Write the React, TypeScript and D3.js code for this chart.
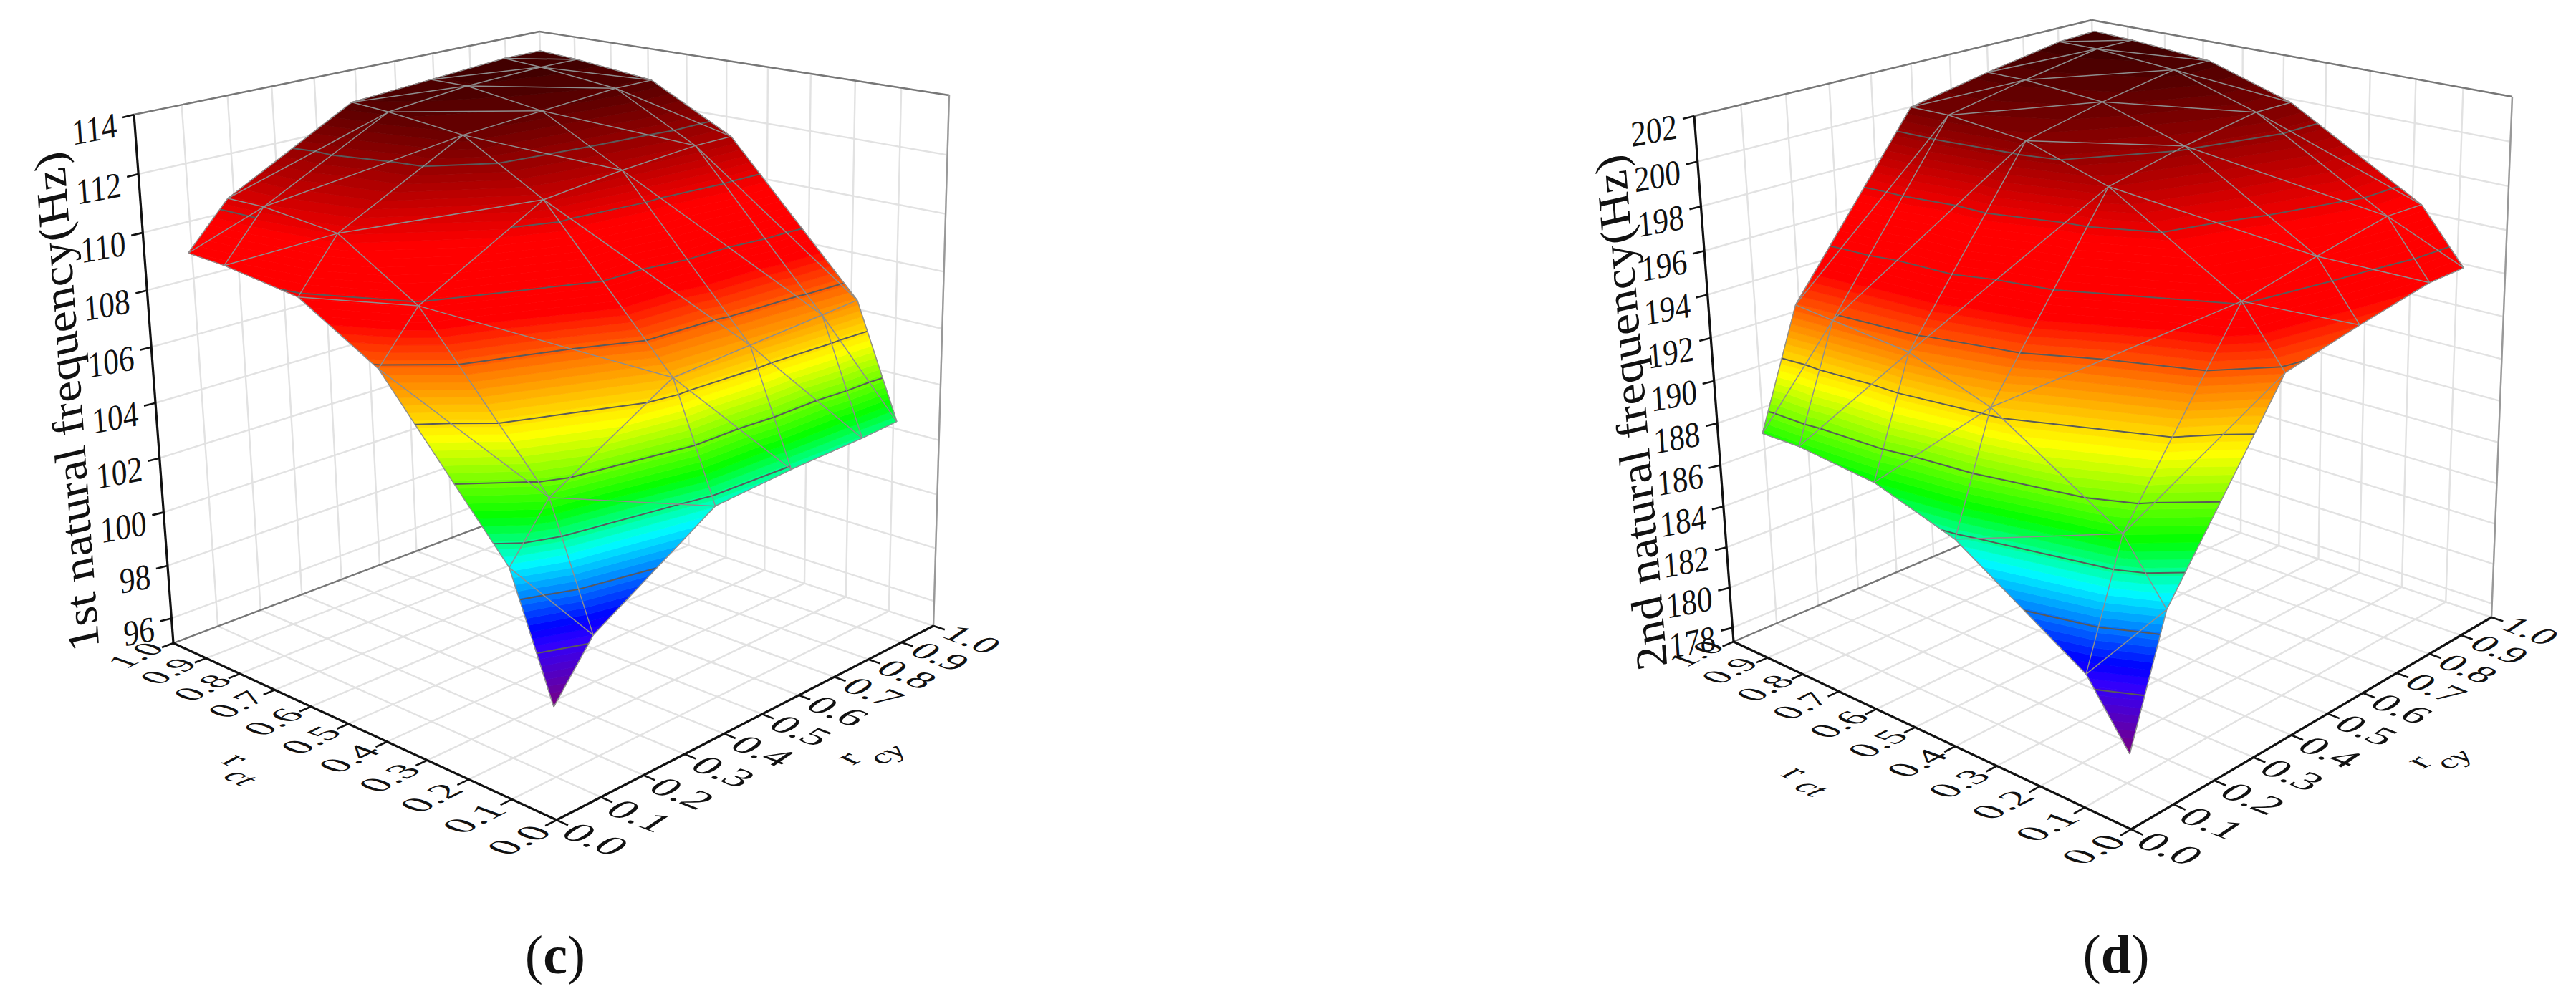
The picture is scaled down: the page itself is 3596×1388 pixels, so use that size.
import React, { useEffect, useRef } from 'react';
import * as d3 from 'd3';

// surface sample positions, same for rct (rows) and rcy (columns)
const meshLevels = [0, 0.09, 0.38, 0.575, 0.77, 0.87];
const axisTicks = [0, 0.1, 0.2, 0.3, 0.4, 0.5, 0.6, 0.7, 0.8, 0.9, 1];
const zTicksC = [96, 98, 100, 102, 104, 106, 108, 110, 112, 114];
const zTicksD = [178, 180, 182, 184, 186, 188, 190, 192, 194, 196, 198, 200, 202];
const contourC = [100.2, 101.7, 103.2, 104.7, 106.2, 107.7, 109.3, 110.9, 112.4];
const contourD = [182.6, 184.8, 186.9, 189.2, 191.4, 193.6, 195.8, 198, 200.1];

const freqC = [
  [98.7, 100.4, 102.9, 103.1, 103.2, 103.3],
  [102.6, 104.3, 106.7, 106.9, 107.1, 107.2],
  [107.6, 109.2, 111.5, 111.8, 112.0, 112.0],
  [109.2, 110.9, 113.1, 113.3, 113.5, 113.5],
  [109.6, 111.2, 113.4, 113.7, 113.8, 113.8],
  [109.7, 111.2, 113.5, 113.7, 113.9, 113.9],
];
const freqD = [
  [180.5, 185.7, 193.4, 194.2, 194.9, 195.0],
  [183.1, 188.2, 195.9, 196.7, 197.4, 197.4],
  [186.7, 191.7, 199.4, 200.2, 200.8, 200.8],
  [187.9, 193.0, 200.6, 201.4, 202.0, 202.0],
  [188.3, 193.4, 201.0, 201.7, 202.3, 202.3],
  [188.3, 193.6, 201.0, 201.7, 202.3, 202.4],
];

const colorStops = ['#7a0080', '#3000ff', '#0000ff', '#00ffff', '#00ff00', '#ffff00', '#ff8000', '#ff0000', '#ff0000', '#3c0000'];
const colorPos = [0, 0.11, 0.14, 0.26, 0.34, 0.47, 0.57, 0.655, 0.78, 1];

type Pt = [number, number];
interface Panel {
  O: Pt; L: Pt; R: Pt; B: Pt; Ot: Pt; Lt: Pt; Rt: Pt; Bt: Pt;
  zMin: number; zMax: number; zTicks: number[]; contours: number[]; freq: number[][]; title: string;
  titleAt: Pt; titleDir: Pt; caption: string; captionAt: Pt;
  rAt: Pt; ctAt: Pt; r2At: Pt; cyAt: Pt;
}

const panelC: Panel = {
  O: [777, 1145], L: [242, 898], R: [1303, 874], B: [770, 698],
  Ot: [755, 275], Lt: [187, 160], Rt: [1325, 133], Bt: [753, 44],
  zMin: 95.05, zMax: 114, zTicks: zTicksC, contours: contourC, freq: freqC, title: '1st natural frequency(Hz)',
  titleAt: [93, 561], titleDir: [-47, -666], caption: 'c', captionAt: [775, 1333],
  rAt: [330, 1060], ctAt: [337, 1085], r2At: [1183, 1058], cyAt: [1237, 1053],
};
const panelD: Panel = {
  O: [2975, 1158], L: [2420, 896], R: [3478, 862], B: [2932, 678],
  Ot: [2959, 293], Lt: [2365, 162], Rt: [3507, 135], Bt: [2920, 28],
  zMin: 177.3, zMax: 202, zTicks: zTicksD, contours: contourD, freq: freqD, title: '2nd natural frequency(Hz)',
  titleAt: [2277, 576], titleDir: [-58, -700], caption: 'd', captionAt: [2954, 1332],
  rAt: [2507, 1078], ctAt: [2530, 1100], r2At: [3375, 1063], cyAt: [3424, 1060],
};

// perspective foreshortening along each axis
const G = 0.19, H = 0.2, I = -0.07;
const warp = (t: number, g: number) => (t * (1 + g)) / (1 + g * t);
const lerp = (a: number, b: number, t: number) => a + (b - a) * t;

function bilin(p: Panel, u: number, v: number, top: boolean, k: 0 | 1) {
  const [a, b, c, d] = top ? [p.Ot, p.Lt, p.Rt, p.Bt] : [p.O, p.L, p.R, p.B];
  return (1 - u) * (1 - v) * a[k] + u * (1 - v) * b[k] + (1 - u) * v * c[k] + u * v * d[k];
}
function project(p: Panel, rct: number, rcy: number, z: number): Pt {
  const zScale = d3.scaleLinear().domain([p.zMin, p.zMax]).range([0, 1]);
  const u = warp(rct, G), v = warp(rcy, H), w = warp(zScale(z), I);
  return [
    lerp(bilin(p, u, v, false, 0), bilin(p, u, v, true, 0), w),
    lerp(bilin(p, u, v, false, 1), bilin(p, u, v, true, 1), w),
  ];
}

type V = [number, number, number];
function clip(poly: V[], level: number, keepAbove: boolean): V[] {
  const out: V[] = [];
  poly.forEach((a, n) => {
    const b = poly[(n + 1) % poly.length];
    const ina = keepAbove ? a[2] >= level : a[2] <= level;
    const inb = keepAbove ? b[2] >= level : b[2] <= level;
    if (ina) out.push(a);
    if (ina !== inb) {
      const t = (level - a[2]) / (b[2] - a[2]);
      out.push([lerp(a[0], b[0], t), lerp(a[1], b[1], t), level]);
    }
  });
  return out;
}

function drawPanel(svg: d3.Selection<SVGSVGElement, unknown, null, undefined>, p: Panel) {
  const g = svg.append('g');
  const zGrid = p.freq;
  const line = d3.line<Pt>();
  const closed = d3.line<Pt>().curve(d3.curveLinearClosed);
  const seg = (a: Pt, b: Pt, color: string, width: number) =>
    g.append('path').attr('d', line([a, b])).attr('stroke', color).attr('stroke-width', width).attr('fill', 'none');
  const grid = '#e2e2e2';

  axisTicks.forEach(t => {
    seg(project(p, t, 0, p.zMin), project(p, t, 1, p.zMin), grid, 2.4);
    seg(project(p, 0, t, p.zMin), project(p, 1, t, p.zMin), grid, 2.4);
    seg(project(p, 1, t, p.zMin), project(p, 1, t, p.zMax), grid, 2.4);
    seg(project(p, t, 1, p.zMin), project(p, t, 1, p.zMax), grid, 2.4);
  });
  p.zTicks.forEach(z => {
    seg(project(p, 1, 0, z), project(p, 1, 1, z), grid, 2.4);
    seg(project(p, 0, 1, z), project(p, 1, 1, z), grid, 2.4);
  });
  seg(p.L, p.B, '#777', 2.4);
  seg(p.Lt, p.Bt, '#777', 2.4);
  seg(p.Rt, p.Bt, '#777', 2.4);
  seg(p.R, p.Rt, '#999', 2.4);

  const flat = zGrid.flat();
  const zLow = d3.min(flat)!, zHigh = d3.max(flat)!;
  const color = d3.scaleLinear<string>()
    .domain(colorPos.map(c => zLow + c * (zHigh - zLow)))
    .range(colorStops);

  const n = meshLevels.length;
  const vert = (i: number, j: number): V => {
    const s = project(p, meshLevels[i], meshLevels[j], zGrid[i][j]);
    return [s[0], s[1], zGrid[i][j]];
  };
  const tris: V[][] = [];
  for (let i = n - 2; i >= 0; i--) {
    for (let j = n - 2; j >= 0; j--) {
      tris.push([vert(i + 1, j + 1), vert(i + 1, j), vert(i, j + 1)]);
      tris.push([vert(i + 1, j), vert(i, j), vert(i, j + 1)]);
    }
  }
  const bw = (zHigh - zLow) / 80;
  const bands = d3.range(0, 80).map(k => zLow + k * bw);
  const surf = g.append('g');
  tris.forEach(tri => {
    bands.forEach(lo => {
      const poly = clip(clip(tri, lo, true), lo + bw, false);
      if (poly.length < 3) return;
      const col = color(lo + bw / 2);
      surf.append('path')
        .attr('d', closed(poly.map(v => [v[0], v[1]] as Pt)))
        .attr('fill', col).attr('stroke', col).attr('stroke-width', 0.8);
    });
  });

  tris.forEach(tri => {
    p.contours.forEach(l => {
      const pts: Pt[] = [];
      tri.forEach((a, k) => {
        const b = tri[(k + 1) % 3];
        if ((a[2] - l) * (b[2] - l) < 0) {
          const t = (l - a[2]) / (b[2] - a[2]);
          pts.push([lerp(a[0], b[0], t), lerp(a[1], b[1], t)]);
        }
      });
      if (pts.length === 2) seg(pts[0], pts[1], '#5a5a5a', 2);
    });
  });

  const mesh = '#8e8e8e';
  for (let i = 0; i < n; i++) {
    for (let j = 0; j < n; j++) {
      const a = vert(i, j);
      const A: Pt = [a[0], a[1]];
      if (j < n - 1) { const b = vert(i, j + 1); seg(A, [b[0], b[1]], mesh, 1.5); }
      if (i < n - 1) { const b = vert(i + 1, j); seg(A, [b[0], b[1]], mesh, 1.5); }
      if (i < n - 1 && j < n - 1) {
        const b = vert(i + 1, j), c = vert(i, j + 1);
        seg([b[0], b[1]], [c[0], c[1]], mesh, 1.5);
      }
    }
  }

  seg(p.L, p.Lt, '#111', 3.2);
  seg(p.O, p.L, '#111', 3.2);
  seg(p.O, p.R, '#111', 3.2);

  const serif = 'Liberation Serif';
  const label = (txt: string, at: Pt, ex: Pt, ey: Pt, size: number, anchor = 'middle', style = 'normal') =>
    g.append('text')
      .attr('transform', `matrix(${ex[0]} ${ex[1]} ${ey[0]} ${ey[1]} ${at[0]} ${at[1]})`)
      .attr('font-family', serif).attr('font-size', size).attr('font-style', style)
      .attr('text-anchor', anchor).attr('dominant-baseline', 'central').attr('fill', '#111').text(txt);

  axisTicks.forEach(t => {
    const a = project(p, t, 0, p.zMin);
    const b = project(p, 0, t, p.zMin);
    seg(a, project(p, t, -0.025, p.zMin), '#111', 2.6);
    seg(b, project(p, -0.025, t, p.zMin), '#111', 2.6);
    const s = lerp(1.08, 0.94, t);
    label(t.toFixed(1), [a[0] - 53, a[1] + lerp(28, 17, t)], [0.97 * s, -0.49 * s], [0.93 * s, 0.34 * s], 50);
    label(t.toFixed(1), [b[0] + 54, b[1] + lerp(27, 19, t)], [1.11 * s, 0.44 * s], [-0.8 * s, 0.54 * s], 50);
  });
  p.zTicks.forEach(z => {
    const a = project(p, 1, 0, z);
    seg(a, [a[0] - 16, a[1] + 4], '#111', 2.6);
    label(String(z), [a[0] - 24, a[1] + 14], [0.86, -0.16], [0.07, 1], 50, 'end');
  });

  label('r', p.rAt, [0.75, 0.35], [-0.75, 0.4], 60);
  label('ct', p.ctAt, [0.75, 0.35], [-0.75, 0.4], 52, 'middle', 'italic');
  label('r', p.r2At, [0.8, -0.4], [0.75, 0.35], 60);
  label('cy', p.cyAt, [0.8, -0.4], [0.75, 0.35], 52, 'middle', 'italic');

  const dl = Math.hypot(p.titleDir[0], p.titleDir[1]);
  label(p.title, p.titleAt, [(1.06 * p.titleDir[0]) / dl, (1.06 * p.titleDir[1]) / dl], [0.96, -0.22], 64);

  const cap = g.append('text').attr('x', p.captionAt[0]).attr('y', p.captionAt[1])
    .attr('font-family', serif).attr('font-size', 76).attr('text-anchor', 'middle')
    .attr('dominant-baseline', 'central').attr('fill', '#111');
  cap.append('tspan').text('(');
  cap.append('tspan').attr('font-weight', 'bold').text(p.caption);
  cap.append('tspan').text(')');
}

const App: React.FC = () => {
  const ref = useRef<SVGSVGElement | null>(null);
  useEffect(() => {
    if (!ref.current) return;
    const svg = d3.select(ref.current);
    svg.selectAll('*').remove();
    drawPanel(svg, panelC);
    drawPanel(svg, panelD);
  }, []);
  return <svg ref={ref} width={3596} height={1388} style={{ position: 'absolute', left: 0, top: 0, background: '#fff' }} />;
};

export default App;
